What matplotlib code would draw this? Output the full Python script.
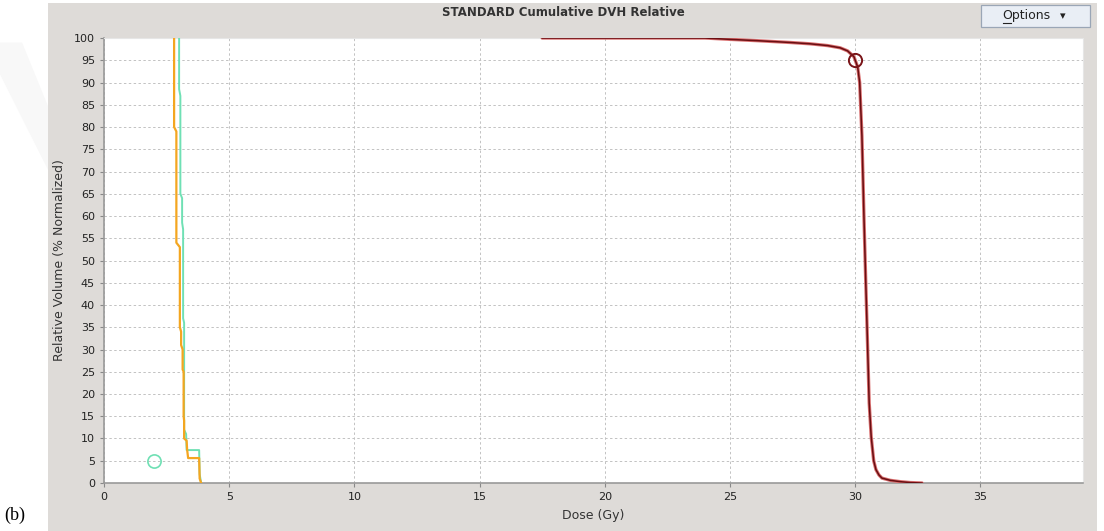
import matplotlib.pyplot as plt
from matplotlib.patches import Rectangle, Polygon

# DVH curves (dose in Gy, relative volume in %)
orange_dose = [2.80, 2.80, 2.89, 2.89, 3.03, 3.03, 3.08, 3.08, 3.14, 3.14, 3.18, 3.18,
               3.20, 3.20, 3.30, 3.32, 3.36, 3.80, 3.82, 3.88]
orange_vol = [100, 80, 79, 54, 53, 35, 34, 31, 30, 25.5, 25, 15,
              14, 10, 9.5, 7.5, 5.6, 5.6, 1, 0]

green_dose = [3.00, 3.00, 3.05, 3.05, 3.12, 3.12, 3.16, 3.16, 3.20, 3.20, 3.28, 3.30,
              3.80, 3.82, 3.88]
green_vol = [100, 88.5, 87, 65, 64, 58.5, 57, 37, 36, 12, 11, 7.4,
             7.4, 2, 0]

red_dose = [17.5, 24.0, 25.0, 26.1, 27.4, 28.2, 28.9, 29.4, 29.7, 29.95, 30.1, 30.18, 30.27,
            30.35, 30.42, 30.46, 30.56, 30.64, 30.74, 30.83, 30.95, 31.07, 31.4, 31.8,
            32.2, 32.67]
red_vol = [100, 100, 99.7, 99.4, 99.0, 98.7, 98.3, 97.8, 97.1, 95.8, 93.5, 90, 78,
           60, 45.7, 38, 18, 10.4, 5, 3, 1.8, 1.1, 0.6, 0.3, 0.1, 0]

# reference points (circles)
green_pt = (2, 5)
red_pt = (30, 95)

x_ticks = [0, 5, 10, 15, 20, 25, 30, 35]
y_ticks = list(range(0, 101, 5))

panel = '#dedbd8'

fig = plt.figure(figsize=(11.04, 5.31), dpi=100)
fig.patch.set_facecolor('white')

# faint watermark shape on the left
fig.patches.append(Polygon([(0, 0.92), (0.02, 0.92), (0.0435, 0.80), (0.0435, 0.68), (0, 0.86)],
                           closed=True, transform=fig.transFigure,
                           facecolor='#f8f8f8', edgecolor='none', zorder=-10))
# gray panel
fig.patches.append(Rectangle((0.0435, 0), 0.950, 0.9944, transform=fig.transFigure,
                             facecolor=panel, edgecolor='none', zorder=-10))

ax = fig.add_axes([0.0942, 0.0904, 0.8868, 0.838])
ax.set_facecolor('white')

ax.plot(green_dose, green_vol, color='#6fe0b4', lw=1.4, zorder=3)
ax.plot(orange_dose, orange_vol, color='#f4a620', lw=1.6, zorder=4)
ax.plot(red_dose, red_vol, color='#d97070', lw=2.4, zorder=5, solid_capstyle='round')
ax.plot(red_dose, red_vol, color='#6a0e12', lw=1.1, zorder=6)

ax.plot(*green_pt, marker='o', ms=9.5, mfc='none', mec='#6fe0b4', mew=1.2, zorder=7)
ax.plot(*red_pt, marker='o', ms=9.5, mfc='none', mec='#7a1418', mew=1.4, zorder=7)

ax.set_xlim(0, 39.1)
ax.set_ylim(0, 100)
ax.set_xticks(x_ticks)
ax.set_yticks(y_ticks)
ax.grid(True, color='#c2c2c2', linestyle=(0, (2.5, 2.5)), linewidth=0.7)
ax.tick_params(labelsize=8, colors='#888888', labelcolor='#222222', length=3, width=0.8)

for side in ['top', 'right']:
    ax.spines[side].set_color('#e6e6e6')
    ax.spines[side].set_linewidth(0.8)
for side in ['left', 'bottom']:
    ax.spines[side].set_color('#999999')
    ax.spines[side].set_linewidth(1.2)

ax.set_xlabel('Dose (Gy)', fontsize=9, color='#333333', labelpad=5)
ax.set_ylabel('Relative Volume (% Normalized)', fontsize=9, color='#333333', labelpad=6)

fig.text(0.510, 0.977, 'STANDARD Cumulative DVH Relative', ha='center', va='center',
         fontsize=8.5, fontweight='bold', color='#333333')

# "Options" button
fig.patches.append(Rectangle((0.889, 0.950), 0.098, 0.040, transform=fig.transFigure,
                             facecolor='#e9eef5', edgecolor='#9aa6b6', lw=0.9, zorder=1))
fig.text(0.930, 0.970, 'Options', ha='center', va='center', fontsize=9, color='#222222', zorder=2)
fig.text(0.963, 0.969, '\u25be', ha='center', va='center', fontsize=8, color='#222222', zorder=2)
fig.lines.append(plt.Line2D([0.9085, 0.9155], [0.957, 0.957], transform=fig.transFigure,
                            color='#222222', lw=0.8))

fig.text(0.004, 0.03, '(b)', ha='left', va='center', fontsize=13,
         family=['Liberation Serif', 'DejaVu Serif'])

fig.savefig('out.png', dpi=100)
